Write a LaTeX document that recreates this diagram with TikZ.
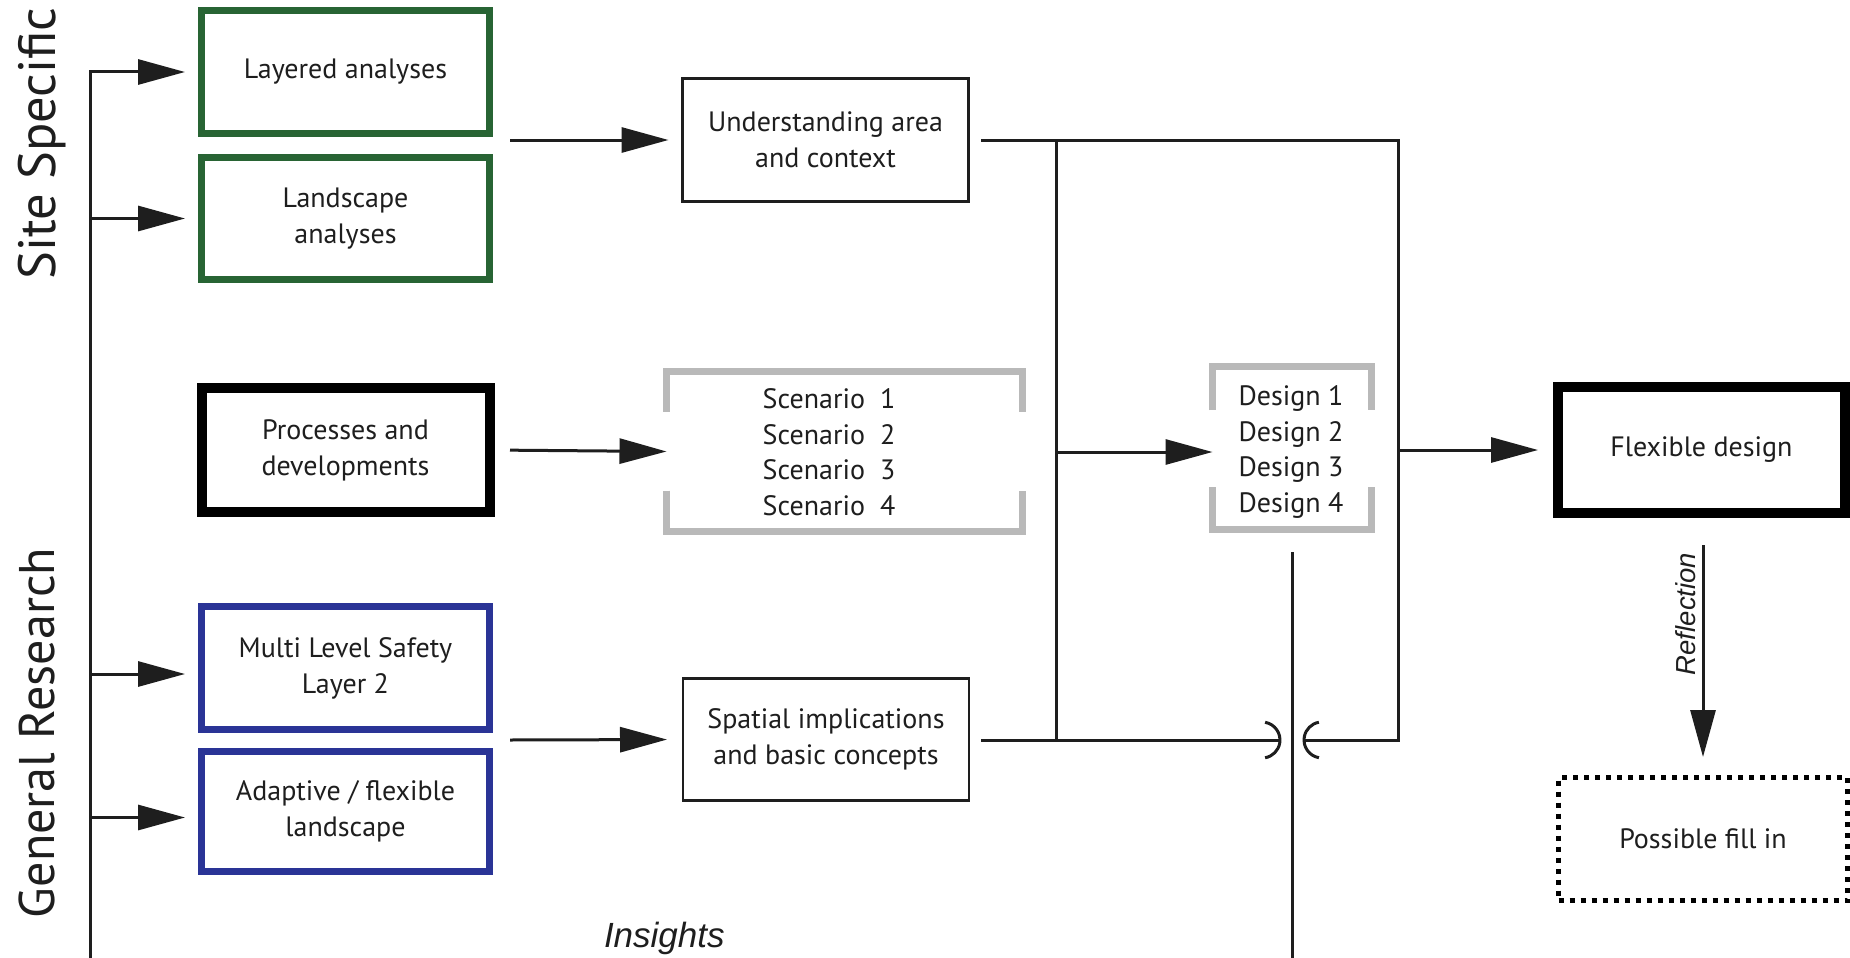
\documentclass[tikz,border=0pt]{standalone}
\usepackage{fontspec}
\usepackage{graphicx}
\setmainfont{PT Sans}
\newfontfamily\notefont{Liberation Sans}
\usetikzlibrary{arrows.meta,calc}

\definecolor{boxgreen}{RGB}{40,100,52}
\definecolor{boxblue}{RGB}{42,52,150}
\definecolor{bracketgray}{RGB}{185,185,185}
\definecolor{ink}{RGB}{30,30,30}

\newcommand\diagboxfont{\fontsize{28}{36}\selectfont}
\newcommand\diaglistfont{\fontsize{28}{35.5}\selectfont}

\begin{document}
\begin{tikzpicture}[x=1pt, y=-1pt,
  line join=miter,
  every node/.style={inner sep=0pt, outer sep=0pt, text=ink},
  panel/.style={draw, align=center, font=\diagboxfont,
    minimum width=288pt, minimum height=123pt},
  greenbox/.style={panel, draw=boxgreen, line width=7pt},
  bluebox/.style={panel, draw=boxblue, line width=7pt},
  heavybox/.style={panel, draw=black, line width=10pt},
  thinbox/.style={panel, draw=ink, line width=2.5pt, minimum width=286pt},
  dotbox/.style={panel, draw=black, line width=5pt, dash pattern=on 5pt off 6pt},
  bracket/.style={draw=bracketgray, line width=7pt},
  conn/.style={draw=ink, line width=3pt},
  arr/.style={conn, -{Triangle[length=47pt,width=25pt]}},
  sidelabel/.style={rotate=90, anchor=base, font=\fontsize{50}{60}\selectfont},
]
\useasboundingbox (0,0) rectangle (1850,958);
\fill[white] (0,0) rectangle (1850,958);

% left column: inputs
\node[greenbox] (lay)   at (345.5,72)    {Layered analyses};
\node[greenbox, minimum height=122pt] (land) at (345.5,218.5) {Landscape\\analyses};
\node[heavybox, minimum height=124pt] (proc) at (345.5,450) {Processes and\\developments};
\node[bluebox]  (multi) at (345.5,668)   {Multi Level Safety\\Layer 2};
\node[bluebox, minimum height=120pt] (adapt) at (345.5,811.5) {Adaptive / flexible\\landscape};

% middle column
\node[thinbox] (und)  at (825.5,140)   {Understanding area\\and context};
\node[thinbox, minimum height=122pt] (spat) at (826,739.5) {Spatial implications\\and basic concepts};

% bracketed lists
\node[minimum width=356pt, minimum height=160pt] (scen) at (844.5,451.5) {};
\node[font=\diaglistfont, align=left] (scenlist) at (829,452)
  {Scenario\ \ 1\\Scenario\ \ 2\\Scenario\ \ 3\\Scenario\ \ 4};
\node[minimum width=159pt, minimum height=163pt] (design) at (1292,448) {};
\node[font=\diaglistfont, align=left] (designlist) at (1291,452)
  {Design 1\\Design 2\\Design 3\\Design 4};

\draw[bracket] ([yshift=-40pt]scen.north west) -- (scen.north west)
  -- (scen.north east) -- ([yshift=-40pt]scen.north east);
\draw[bracket] ([yshift=41pt]scen.south west) -- (scen.south west)
  -- (scen.south east) -- ([yshift=41pt]scen.south east);
\draw[bracket] ([yshift=-43.5pt]design.north west) -- (design.north west)
  -- (design.north east) -- ([yshift=-43.5pt]design.north east);
\draw[bracket] ([yshift=42.5pt]design.south west) -- (design.south west)
  -- (design.south east) -- ([yshift=42.5pt]design.south east);

% right column
\node[heavybox, minimum width=287pt, minimum height=126pt] (flex) at (1701.5,450) {Flexible design};
\node[dotbox, minimum width=289pt] (fill) at (1703,839) {Possible fill in};

% side labels, stretched to the span of their column
\node[sidelabel] (siteLbl) at (55,143.5) {\resizebox{272pt}{!}{Site Specific}};
\node[sidelabel] (genLbl)  at (54,733)   {\resizebox{370pt}{!}{General Research}};
\node[anchor=base west, font=\notefont\itshape\fontsize{35}{40}\selectfont] (insights) at (604,947) {Insights};

% spine feeding the input boxes
\coordinate (spineBot) at (90,958);
\coordinate (multiIn) at ([yshift=-6pt]multi.west);
\coordinate (adaptIn) at ([yshift=-6pt]adapt.west);
\draw[arr, shorten >=16.5pt] (spineBot) |- (lay.west);
\draw[arr, shorten >=16.5pt] (spineBot |- land.west) -- (land.west);
\draw[arr, shorten >=16.5pt] (spineBot |- multiIn) -- (multiIn);
\draw[arr, shorten >=16.5pt] (spineBot |- adaptIn) -- (adaptIn);

% inputs to the middle column
\coordinate (siteOut) at (510,140);
\coordinate (resOut)  at (510,740);
\draw[arr, shorten >=14pt] (siteOut) -- (und.west);
\draw[arr, shorten <=20.5pt] (proc.east) -- (scen.west);
\draw[arr, shorten >=16pt] (resOut) -- (spat.west);

% collecting buses
\coordinate (busL)  at (1056,140);
\coordinate (busR)  at (1398,140);
\coordinate (cross) at (1292,740);
\draw[conn, shorten <=12.5pt] (und.east) -- (busR) -- (busR |- cross) -- ($(cross)+(12,0)$);
\draw[conn, shorten <=12pt] (spat.east |- cross) -- ($(cross)+(-12,0)$);
\draw[conn] (busL) -- (busL |- cross);
\draw[conn] ($(cross)+(-26.9,-17.7)$) arc[start angle=-80, end angle=80, radius=18];
\draw[conn] ($(cross)+(26.9,17.7)$) arc[start angle=100, end angle=260, radius=18];
\draw[conn] ([yshift=-22.5pt]design.south) -- (design.south |- spineBot);

\draw[arr] (busL |- designlist) -- (design.west |- designlist);
\draw[arr, shorten >=20pt] (busR |- flex.west) -- (flex.west);

% reflection loop
\draw[arr, shorten <=32pt, shorten >=20.5pt] (fill.north |- flex.south) -- (fill.north);
\node[rotate=90, anchor=base, font=\notefont\itshape\fontsize{27.5}{30}\selectfont] (refl) at (1695,614) {Reflection};
\end{tikzpicture}
\end{document}
